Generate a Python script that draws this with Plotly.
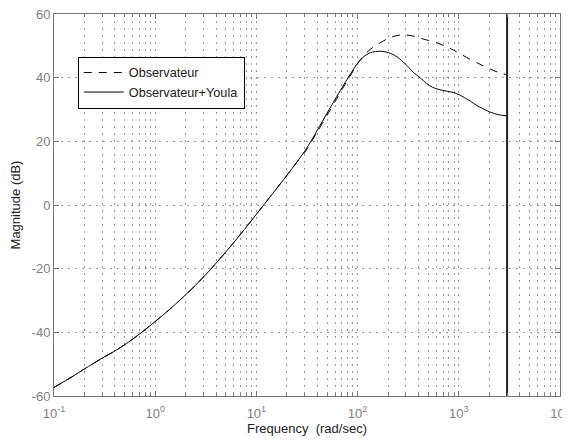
import plotly.graph_objects as go

# ---- data ----
freq_common = [0.1, 0.15, 0.2, 0.3, 0.417, 0.55, 0.708, 1.0, 1.4, 2.0, 2.5, 3.35,
               5.0, 7.0, 10, 14, 20, 25]
mag_common = [-57.3, -54.0, -51.5, -48.1, -45.5, -43.0, -40.4, -36.6, -32.7, -28.2,
              -25.2, -21.0, -14.7, -9.1, -2.9, 3.0, 9.3, 13.4]

freq_obs_tail = [30, 40, 50, 60, 70, 84, 100, 115, 130, 150, 170, 200, 230, 263, 300,
                 350, 417, 500, 600, 750, 890, 1100, 1290, 1600, 1900, 2500, 3000]
mag_obs_tail = [16.5, 23.0, 28.2, 32.5, 36.2, 40.4, 44.4, 46.9, 48.6, 50.0, 51.1,
                52.3, 53.0, 53.4, 53.4, 53.1, 52.4, 51.7, 51.0, 49.8, 48.6, 47.0,
                45.8, 44.3, 43.1, 41.6, 40.9]

freq_youla_tail = [30, 35, 40, 50, 60, 70, 84, 100, 115, 130, 150, 170, 195, 230, 263,
                   310, 355, 417, 480, 550, 650, 780, 890, 1000, 1100, 1300, 1500,
                   2000, 2520, 3000]
mag_youla_tail = [16.9, 20.3, 23.5, 28.9, 33.2, 36.8, 40.9, 44.5, 46.6, 47.7, 48.2,
                  48.3, 48.0, 47.1, 45.8, 43.7, 41.7, 39.9, 38.2, 37.0, 36.2, 35.7,
                  35.3, 34.7, 34.0, 32.6, 31.3, 29.3, 28.3, 28.0]

nyquist_freq = 3000
names = ["Observateur", "Observateur+Youla"]

x_tickvals = [0.1, 1, 10, 100, 1000, 10000]
x_ticktext = ["10<sup>-1</sup>", "10<sup>0</sup>", "10<sup>1</sup>",
              "10<sup>2</sup>", "10<sup>3</sup>", "10<sup>4</sup>"]
y_tickvals = [-60, -40, -20, 0, 20, 40, 60]
y_ticktext = ["-60", "-40", "-20", "0", "20", "40", "60"]
x_minor = [d * 10 ** e for e in range(-1, 4) for d in range(2, 10)]

y_range = [-60, 60]
FONT = "Liberation Sans, Arial, sans-serif"

fig = go.Figure()
fig.add_trace(go.Scatter(
    x=freq_common + freq_obs_tail, y=mag_common + mag_obs_tail,
    mode="lines", name=names[0],
    line=dict(color="black", width=1, dash="8px,7px", shape="spline", smoothing=0.8)))
fig.add_trace(go.Scatter(
    x=freq_common + freq_youla_tail, y=mag_common + mag_youla_tail,
    mode="lines", name=names[1],
    line=dict(color="black", width=1, shape="spline", smoothing=0.8)))
fig.add_trace(go.Scatter(
    x=[nyquist_freq, nyquist_freq], y=y_range, mode="lines", showlegend=False,
    line=dict(color="#222", width=2)))

axis_common = dict(
    showline=True, linecolor="#777", linewidth=1, mirror="allticks",
    ticks="inside", ticklen=5, tickcolor="#777",
    showgrid=True, gridcolor="#999", griddash="2px,5px", gridwidth=1,
    zeroline=False, ticklabeloverflow="allow", automargin=False,
    tickfont=dict(family=FONT, size=13, color="#808080"),
)

fig.update_layout(
    width=562, height=433,
    margin=dict(l=46, r=10, t=6, b=45, autoexpand=False),
    paper_bgcolor="white", plot_bgcolor="white",
    font=dict(family=FONT, size=12, color="#222"),
    xaxis=dict(
        type="log", range=[-1, 4], tickmode="array",
        tickvals=x_tickvals, ticktext=x_ticktext, ticklabelstandoff=5,
        minor=dict(tickmode="array", tickvals=x_minor, ticks="inside", ticklen=3,
                   tickcolor="#777", showgrid=True, gridcolor="#999",
                   griddash="2px,5px", gridwidth=1),
        title=dict(text="Frequency\u00a0 (rad/sec)", standoff=2,
                   font=dict(family=FONT, size=13, color="#222")),
        **axis_common),
    yaxis=dict(
        range=y_range, tickmode="array", tickvals=y_tickvals, ticktext=y_ticktext,
        title=dict(text="Magnitude (dB)", standoff=8,
                   font=dict(family=FONT, size=13, color="#222")),
        **axis_common),
    legend=dict(
        x=0.047, y=0.888, xanchor="left", yanchor="top",
        bgcolor="white", bordercolor="black", borderwidth=1,
        font=dict(family=FONT, size=12.7, color="#222"), itemwidth=40),
    showlegend=True,
)

fig.write_html("out.html")
